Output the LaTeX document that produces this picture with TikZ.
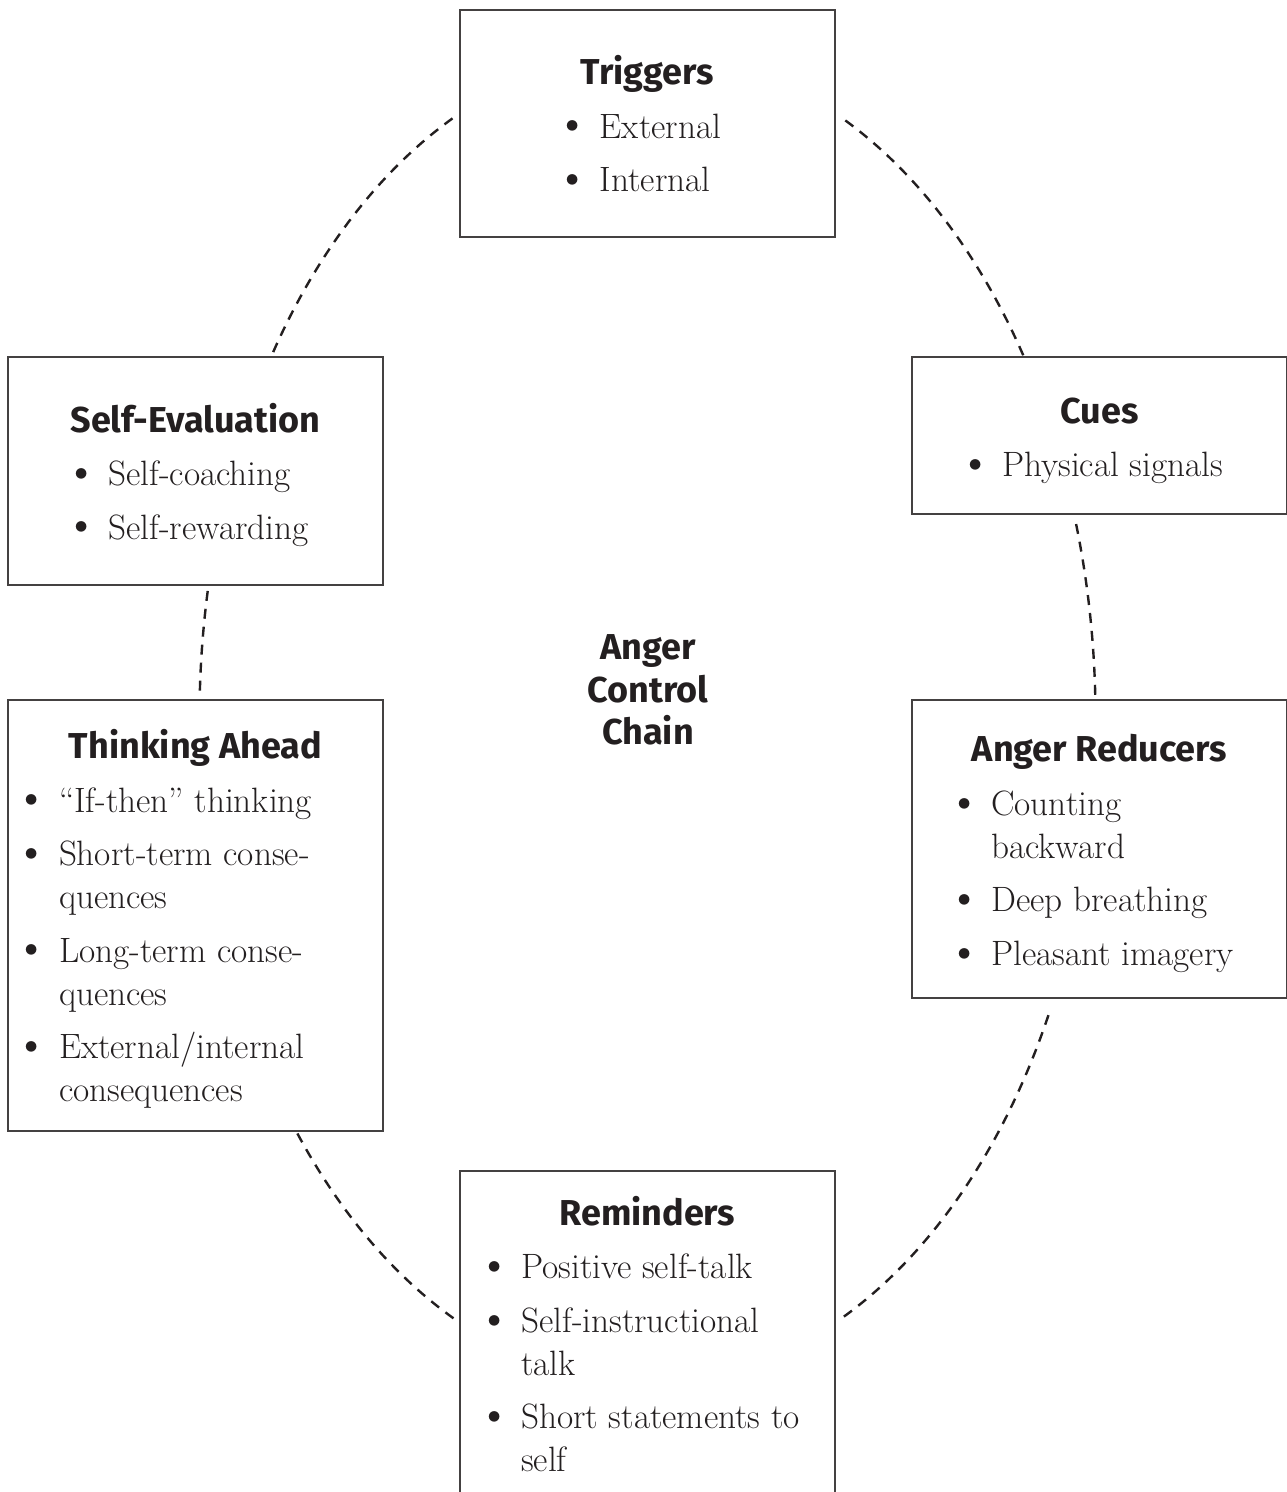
\documentclass[tikz,border=0pt]{standalone}
\usepackage{fontspec}
\usepackage{graphicx}
\setsansfont{Fira Sans}
\usetikzlibrary{calc}
\definecolor{ink}{HTML}{231F20}
\tikzset{
  every node/.style={font=\fontsize{17.6}{21.5}\selectfont,text=ink},
  box/.style={draw=ink!85,line width=0.75pt,fill=white,inner sep=0pt,minimum width=187.5pt},
  link/.style={ink,line width=1.2pt,dash pattern=on 5pt off 4pt},
}
\newcommand{\hd}[1]{\multicolumn{2}{@{}c@{}}{\rule{0pt}{21pt}\sffamily\bfseries\fontsize{18}{21.5}\selectfont #1}\\[5.25pt]}
\newcommand{\bl}{\makebox[11pt]{\raisebox{-0.4pt}{\scalebox{1.35}{\textbullet}}}}
\newenvironment{blist}[1][l]{\begin{tabular}{@{}p{19pt}@{}#1@{\hspace{6pt}}}}{\end{tabular}}

\begin{document}
\begin{tikzpicture}[x=0.5pt,y=0.5pt]
  \useasboundingbox (0,0) rectangle (1286,-1492);
  % dashed ring behind the boxes
  \coordinate (ring) at (647.5,-718);
  \foreach \a/\b in {115.8/147,169/178,218.6/244.5,296/334,2/17,33/64}
    \draw[link] ($(ring)+(\a:224pt and 333pt)$) arc[start angle=\a,end angle=\b,x radius=224pt,y radius=333pt];
  \node[box,minimum height=113.5pt] (trig) at (647.5,-123.5) {\begin{blist}
    \hd{Triggers}
    \bl & External\\[5.25pt]
    \bl & Internal
  \end{blist}};
  \node[box,minimum height=78.5pt] (cues) at (1099.5,-435.5) {\begin{blist}
    \hd{Cues}
    \bl & Physical signals
  \end{blist}};
  \node[box,minimum height=149pt] (red) at (1099.5,-849) {\begin{blist}
    \hd{Anger Reducers}
    \bl & Counting\\
        & backward\\[5.25pt]
    \bl & Deep breathing\\[5.25pt]
    \bl & Pleasant imagery
  \end{blist}};
  \node[box,minimum height=163pt] (remind) at (647.5,-1334) {\begin{blist}
    \hd{Reminders}
    \bl & Positive self-talk\\[5.25pt]
    \bl & Self-instructional\\
        & talk\\[5.25pt]
    \bl & Short statements to\\
        & self
  \end{blist}};
  \node[box,minimum height=215.5pt] (think) at (195.5,-915.5) {\begin{blist}[p{149.5pt}]
    \hd{Thinking Ahead}
    \bl & “If-then” thinking\\[5.25pt]
    \bl & Short-term conse-\\
        & quences\\[5.25pt]
    \bl & Long-term conse-\\
        & quences\\[5.25pt]
    \bl & External/internal\\
        & consequences
  \end{blist}};
  \node[box,minimum height=114pt] (selfev) at (195.5,-471) {\begin{blist}
    \hd{Self-Evaluation}
    \bl & Self-coaching\\[5.25pt]
    \bl & Self-rewarding
  \end{blist}};
  \node[font=\sffamily\bfseries\fontsize{18}{21.25}\selectfont,align=center] (hub) at (648,-690) {Anger\\Control\\Chain};
\end{tikzpicture}
\end{document}
